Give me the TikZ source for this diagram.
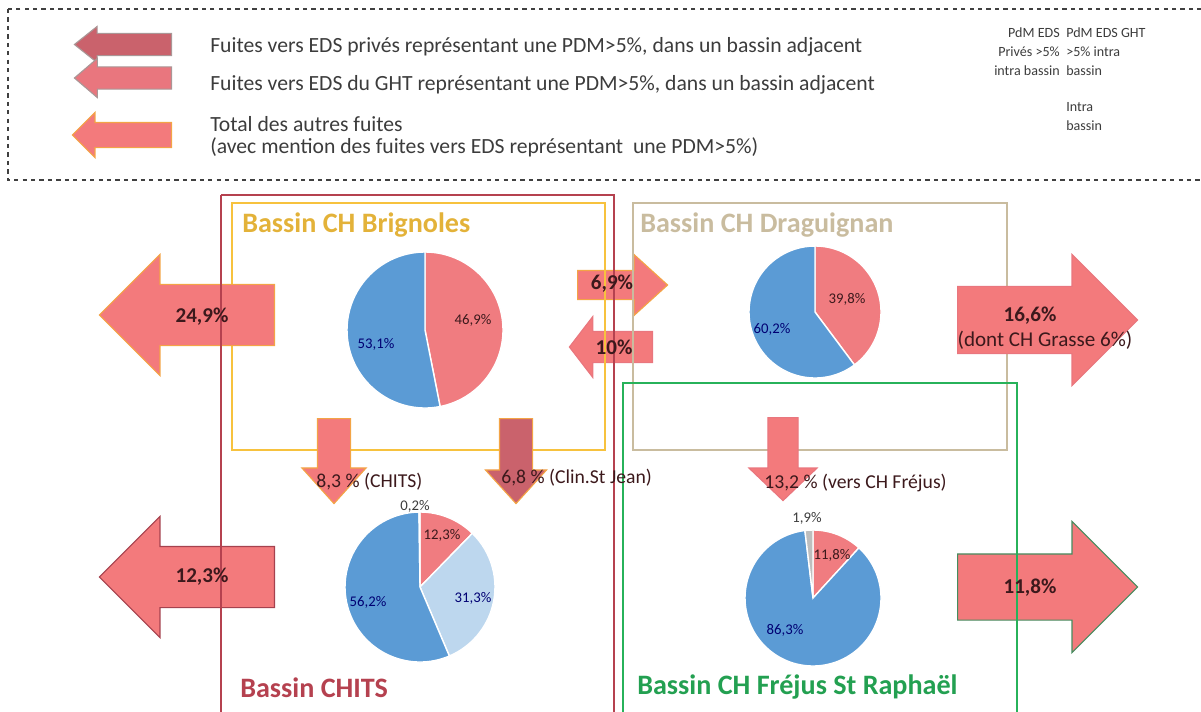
\documentclass[tikz,border=0pt]{standalone}
\usepackage{fontspec}
\setmainfont{Carlito}
\usepackage{xcolor}
\usetikzlibrary{shapes.arrows, positioning}
\definecolor{saumon}{RGB}{243, 122, 124}
\definecolor{roseFonce}{RGB}{202, 98, 108}
\definecolor{roseMoyen}{RGB}{233, 118, 126}
\definecolor{bordOrange}{RGB}{243, 164, 70}
\definecolor{bordRouge}{RGB}{165, 66, 78}
\definecolor{bordVert}{RGB}{70, 140, 95}
\definecolor{bordGris}{RGB}{170, 150, 150}
\definecolor{pieRouge}{RGB}{240, 124, 128}
\definecolor{pieBleu}{RGB}{91, 155, 213}
\definecolor{pieBleuClair}{RGB}{189, 215, 238}
\definecolor{pieGris}{RGB}{190, 190, 190}
\definecolor{cadreOr}{RGB}{247, 194, 62}
\definecolor{cadreChits}{RGB}{181, 65, 79}
\definecolor{cadreTan}{RGB}{201, 188, 159}
\definecolor{cadreVert}{RGB}{39, 178, 90}
\definecolor{texteSombre}{RGB}{60, 60, 60}
\definecolor{texteFleche}{RGB}{60, 25, 28}

\begin{document}
\begin{tikzpicture}[
    x=0.025cm, y=-0.025cm,
    fleche/.style={
        single arrow,
        single arrow head indent=0pt,
        line width=0.8pt,
        anchor=tail
    },
    cadre/.style={line width=1.6pt},
    legende/.style={
        anchor=west,
        inner sep=0pt,
        font=\fontsize{15.4}{17}\selectfont\color{texteSombre}
    },
    petit/.style={
        inner sep=0pt,
        font=\fontsize{10}{13.5}\selectfont\color{texteSombre}
    },
    titre/.style={
        anchor=west,
        inner sep=0pt,
        font=\fontsize{20}{24}\selectfont\bfseries
    },
    taux/.style={
        inner sep=0pt,
        font=\fontsize{15}{16}\selectfont\bfseries\color{texteFleche}
    },
    flux/.style={
        anchor=west,
        inner sep=0pt,
        font=\fontsize{14}{16}\selectfont\color{texteFleche}
    },
    part/.style={
        inner sep=0pt,
        font=\fontsize{10.5}{11}\selectfont
    },
    tranche/.style={draw=white, line width=1pt}
]
    \useasboundingbox (0,0) rectangle (1201,711);

    % Legende
    \draw[dashed, line width=0.8pt, black!75] (8,9) rectangle (1210,180);
    \node[fleche, fill=roseFonce, draw=bordGris, shape border rotate=180,
        minimum height=2.425cm, inner sep=0.2625cm,
        single arrow head extend=0.175cm, single arrow tip angle=77] (leg1) at (172,44.5) {};
    \node[fleche, fill=roseMoyen, draw=bordGris, shape border rotate=180,
        minimum height=2.425cm, inner sep=0.2625cm,
        single arrow head extend=0.2125cm, single arrow tip angle=81] (leg2) at (172,78) {};
    \node[fleche, fill=saumon, draw=bordOrange, shape border rotate=180,
        minimum height=2.475cm, inner sep=0.3cm,
        single arrow head extend=0.25cm, single arrow tip angle=90] (leg3) at (172,135) {};

    \node[legende] (tleg1) at (210,47) {Fuites vers EDS privés représentant une PDM>5\%, dans un bassin adjacent};
    \node[legende] (tleg2) at (210,85) {Fuites vers EDS du GHT représentant une PDM>5\%, dans un bassin adjacent};
    \node[legende] (tleg3) at (210,124) {Total des autres fuites};
    \node[legende] (tleg4) at (210,147) {(avec mention des fuites vers EDS représentant\ \ une PDM>5\%)};

    \node[petit, anchor=north east, align=right] (pdmPrive) at (1060,27) {PdM EDS\\Privés >5\%\\intra bassin};
    \node[petit, anchor=north west, align=left] (pdmGht) at (1066,27) {PdM EDS GHT\\>5\% intra\\bassin};
    \node[petit, anchor=north west, align=left] (intra) at (1066,102) {Intra\\bassin};

    % Fleches entre Brignoles et Draguignan
    \node[fleche, fill=saumon, draw=bordOrange,
        minimum height=2.25cm, inner sep=0.35cm,
        single arrow head extend=0.4cm, single arrow tip angle=84.5] (f69) at (577,285) {};
    \node[fleche, fill=saumon, draw=roseMoyen, shape border rotate=180,
        minimum height=2.075cm, inner sep=0.375cm,
        single arrow head extend=0.375cm, single arrow tip angle=105] (f10) at (653,347) {};

    % Bassins Brignoles et Draguignan
    \draw[cadre, cadreOr] (232,203) rectangle (605,450);
    \draw[cadre, cadreTan] (633,203) rectangle (1007,450);

    % Fuites laterales
    \node[fleche, fill=saumon, draw=bordOrange, shape border rotate=180,
        minimum height=4.375cm, inner sep=0.75cm,
        single arrow head extend=0.75cm, single arrow tip angle=90] (g249) at (275,315) {};
    \node[fleche, fill=saumon, draw=bordRouge, shape border rotate=180,
        minimum height=4.375cm, inner sep=0.75cm,
        single arrow head extend=0.75cm, single arrow tip angle=90] (g123) at (275,577) {};
    \node[fleche, fill=saumon, draw=roseMoyen,
        minimum height=4.5cm, inner sep=0.825cm,
        single arrow head extend=0.8cm, single arrow tip angle=90] (d166) at (957,320) {};
    \node[fleche, fill=saumon, draw=bordVert,
        minimum height=4.5cm, inner sep=0.8125cm,
        single arrow head extend=0.8125cm, single arrow tip angle=90] (d118) at (957,587) {};

    % Fuites vers le bas
    \node[fleche, fill=saumon, draw=bordOrange, shape border rotate=270,
        minimum height=2.125cm, inner sep=0.4cm,
        single arrow head extend=0.3875cm, single arrow tip angle=84] (b83) at (334,418) {};
    \node[fleche, fill=roseFonce, draw=bordOrange, shape border rotate=270,
        minimum height=2.125cm, inner sep=0.4cm,
        single arrow head extend=0.35cm, single arrow tip angle=84.5] (b68) at (516,418) {};
    \node[fleche, fill=saumon, draw=roseMoyen, shape border rotate=270,
        minimum height=2.075cm, inner sep=0.3625cm,
        single arrow head extend=0.475cm, single arrow tip angle=92.6] (b132) at (783,417) {};

    % Bassins CHITS et Frejus
    \draw[cadre, cadreChits] (221,195) -- (221,720) (221,195) -- (614,195) -- (614,720);
    \draw[cadre, cadreVert] (623,720) -- (623,383) -- (1017,383) -- (1017,720);

    % Camemberts
    \begin{scope}[shift={(425,330)}, yscale=-1]
        \foreach \a/\b/\c in {90/-78.84/pieRouge, -78.84/-270/pieBleu}
            \filldraw[tranche, fill=\c] (0,0) -- (\a:78) arc[start angle=\a, end angle=\b, radius=78] -- cycle;
    \end{scope}
    \begin{scope}[shift={(815,312)}, yscale=-1]
        \foreach \a/\b/\c in {90/-53.28/pieRouge, -53.28/-270/pieBleu}
            \filldraw[tranche, fill=\c] (0,0) -- (\a:66) arc[start angle=\a, end angle=\b, radius=66] -- cycle;
    \end{scope}
    \begin{scope}[shift={(420,587)}, yscale=-1]
        \foreach \a/\b/\c in {90/45.72/pieRouge, 45.72/-66.96/pieBleuClair, -66.96/-269.28/pieBleu, -269.28/-270/pieGris}
            \filldraw[tranche, fill=\c] (0,0) -- (\a:75) arc[start angle=\a, end angle=\b, radius=75] -- cycle;
    \end{scope}
    \begin{scope}[shift={(813,598)}, yscale=-1]
        \foreach \a/\b/\c in {90/47.52/pieRouge, 47.52/-263.16/pieBleu, -263.16/-270/pieGris}
            \filldraw[tranche, fill=\c] (0,0) -- (\a:68) arc[start angle=\a, end angle=\b, radius=68] -- cycle;
    \end{scope}

    % Parts
    \node[part, text=texteFleche] (p469) at (473,320) {46,9\%};
    \node[part, text=blue!45!black] (p531) at (376,344) {53,1\%};
    \node[part, text=texteFleche] (p398) at (847,299) {39,8\%};
    \node[part, text=blue!45!black] (p602) at (772,329) {60,2\%};
    \node[part, text=texteSombre] (p02) at (415,506) {0,2\%};
    \node[part, text=texteFleche] (p123) at (442,535) {12,3\%};
    \node[part, text=blue!45!black] (p313) at (473,598) {31,3\%};
    \node[part, text=blue!45!black] (p562) at (368,602) {56,2\%};
    \node[part, text=texteSombre] (p19) at (807,518) {1,9\%};
    \node[part, text=texteFleche] (p118) at (832,555) {11,8\%};
    \node[part, text=blue!45!black] (p863) at (785,630) {86,3\%};

    % Titres des bassins
    \node[titre, text=cadreOr!92!black] (tBrignoles) at (242,225) {Bassin CH Brignoles};
    \node[titre, text=cadreTan] (tDraguignan) at (640,225) {Bassin CH Draguignan};
    \node[titre, text=cadreChits] (tChits) at (240,688) {Bassin CHITS};
    \node[titre, text=cadreVert!90!black] (tFrejus) at (637,687) {Bassin CH Fréjus St Raphaël};

    % Taux
    \node[taux] (t249) at (202,317) {24,9\%};
    \node[taux] (t123) at (202,577) {12,3\%};
    \node[taux] (t69) at (612,284) {6,9\%};
    \node[taux] (t10) at (614,347) {10\%};
    \node[taux] (t166) at (1030,316) {16,6\%};
    \node[flux, anchor=center, font=\fontsize{15}{16}\selectfont\color{texteFleche}] (t166b) at (1045,340) {(dont CH Grasse 6\%)};
    \node[taux] (t118) at (1030,588) {11,8\%};
    \node[flux] (t83) at (316,482) {8,3 \% (CHITS)};
    \node[flux] (t68) at (501,478) {6,8 \% (Clin.St Jean)};
    \node[flux] (t132) at (764,483) {13,2 \% (vers CH Fréjus)};
\end{tikzpicture}
\end{document}
